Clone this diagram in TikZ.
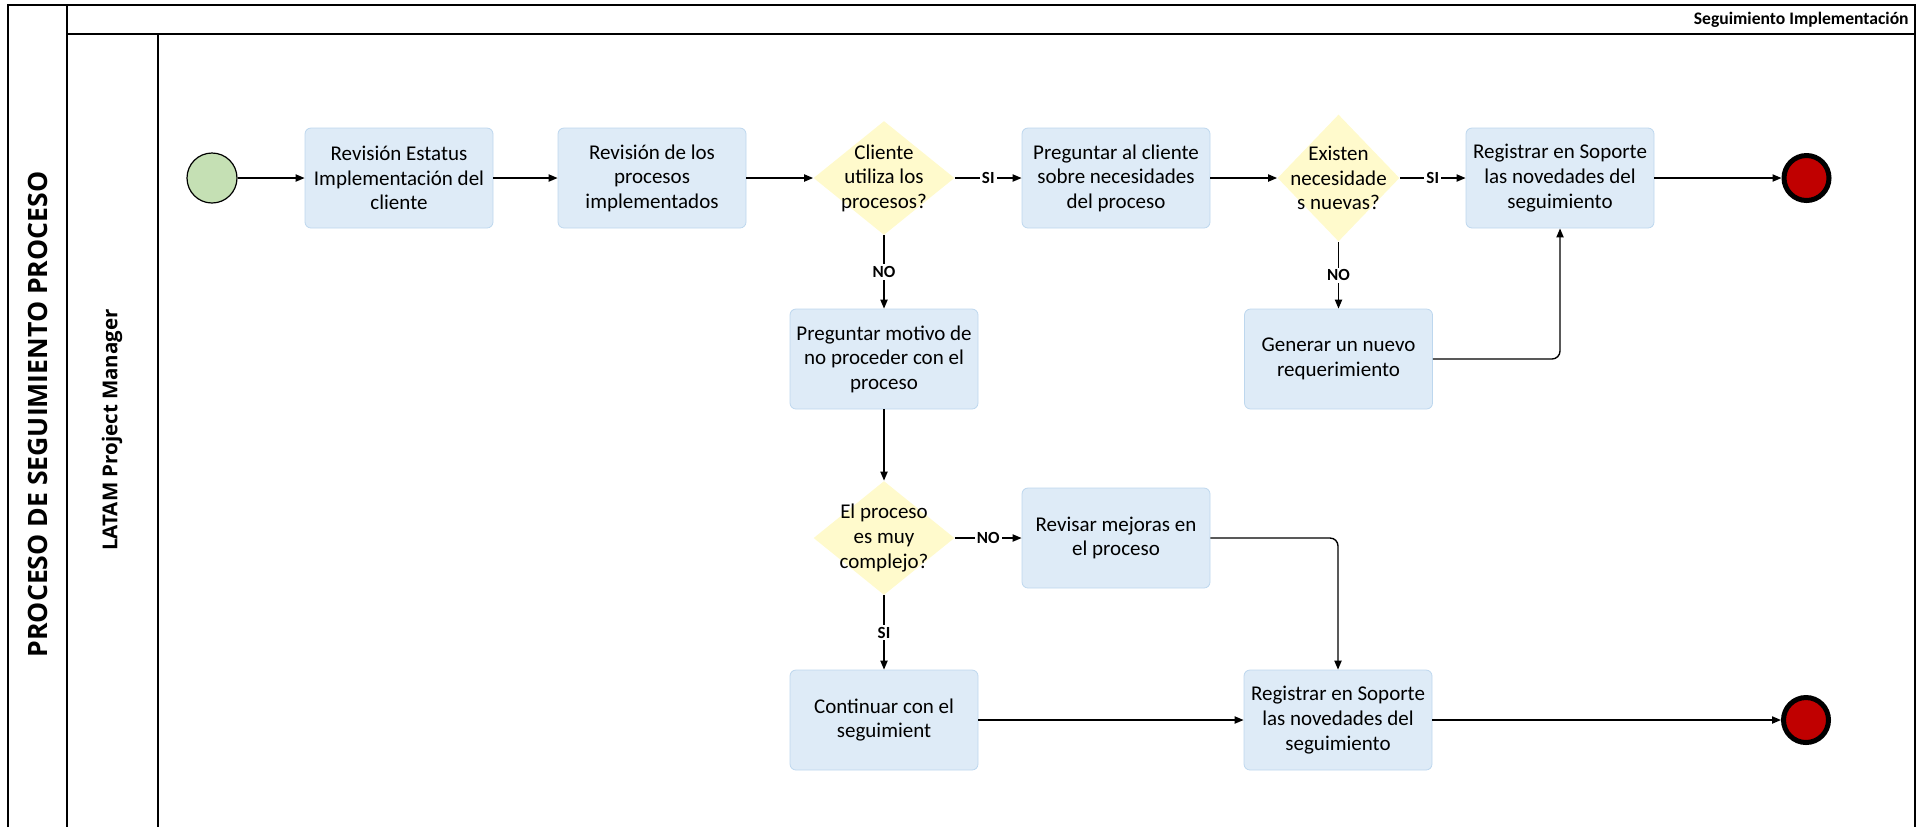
\documentclass[tikz,border=0pt]{standalone}
\usepackage{fontspec}
\setmainfont{Carlito}
\newfontfamily\lanefont{Open Sans}
\usetikzlibrary{shapes.geometric,arrows.meta}
\definecolor{taskfill}{RGB}{222,235,247}
\definecolor{taskline}{RGB}{189,215,238}
\definecolor{gatefill}{RGB}{255,250,204}
\definecolor{startgreen}{RGB}{197,224,180}
\definecolor{endred}{RGB}{192,0,0}

\begin{document}
\begin{tikzpicture}[
        x=0.5pt, y=-0.5pt,
        node distance=116pt,
        task/.style={draw=taskline, fill=taskfill, rounded corners=3pt, align=center, minimum width=94pt, minimum height=50pt, inner sep=1pt, font=\fontsize{10.5}{12.3}\selectfont},
        gate/.style={diamond, draw=none, fill=gatefill, inner sep=0pt, minimum width=70.5pt, minimum height=57pt},
        gatetext/.style={align=center, inner sep=0pt, font=\fontsize{10.5}{12.3}\selectfont},
        startev/.style={circle, draw, line width=0.6pt, fill=startgreen, minimum size=25pt, inner sep=0pt},
        endev/.style={circle, draw, line width=2.5pt, fill=endred, minimum size=22.5pt, inner sep=0pt},
        arrow/.style={-{Triangle[length=4.5pt,width=3.6pt]}, line width=0.7pt},
        answer/.style={fill=white, inner sep=1pt, font=\fontsize{8.5}{10}\selectfont\bfseries},
        lane/.style={line width=0.9pt}
      ]
        \useasboundingbox (0,0) rectangle (1925,827);
        \draw[lane] (8,827) -- (8,5) -- (1915,5) -- (1915,827);
        \draw[lane] (67,5) -- (67,827);
        \draw[line width=1.2pt] (67,34) -- (1915,34);
        \draw[lane] (158,34) -- (158,827);
        \node[anchor=east, inner sep=0pt, font=\fontsize{8.8}{10}\selectfont\bfseries] (head) at (1909,20) {Seguimiento Implementación};
        \node[rotate=90, font=\lanefont\bfseries\fontsize{13.3}{15}\selectfont] (pool) at (37.5,414.5) {PROCESO DE SEGUIMIENTO PROCESO};
        \node[rotate=90, font=\lanefont\bfseries\fontsize{10.25}{12}\selectfont] (lanepm) at (112,430) {LATAM Project Manager};

        \node[startev] (start) at (212,178) {};
        \node[task] (b1) [right of=start, node distance=93.5pt] {Revisión Estatus\\Implementación del\\cliente};
        \node[task] (b2) [right of=b1, node distance=126.5pt] {Revisión de los\\procesos\\implementados};
        \node[gate] (d1) [right of=b2] {};
        \node[gatetext] (d1t) at (d1) {Cliente\\utiliza los\\procesos?};
        \node[task] (b3) [right of=d1] {Preguntar al cliente\\sobre necesidades\\del proceso};
        \node[gate, minimum width=61pt, minimum height=63.5pt] (d2) [right of=b3, node distance=111.25pt] {};
        \node[gatetext] (d2t) at (d2) {Existen\\necesidade\\s nuevas?};
        \node[task] (b4) [right of=d2, node distance=110.75pt] {Registrar en Soporte\\las novedades del\\seguimiento};
        \node[endev] (end1) [right of=b4, node distance=123.25pt] {};
        \node[task] (b5) [below of=d1, node distance=90.5pt] {Preguntar motivo de\\no proceder con el\\proceso};
        \node[task] (b6) [below of=d2, node distance=90.5pt] {Generar un nuevo\\requerimiento};
        \node[gate] (d3) [below of=b5, node distance=89.5pt] {};
        \node[gatetext] (d3t) at (d3) {El proceso\\es muy\\complejo?};
        \node[task] (b7) [right of=d3] {Revisar mejoras en\\el proceso};
        \node[task] (b8) [below of=d3, node distance=91pt] {Continuar con el\\seguimient};
        \node[task] (b9) [right of=b8, node distance=227pt] {Registrar en Soporte\\las novedades del\\seguimiento};
        \node[endev] (end2) [right of=b9, node distance=234pt] {};

        \draw[arrow] (start) -- (b1);
        \draw[arrow] (b1) -- (b2);
        \draw[arrow] (b2) -- (d1);
        \draw[arrow] (d1) -- node[answer]{SI} (b3);
        \draw[arrow] (b3) -- (d2);
        \draw[arrow] (d2) -- node[answer]{SI} (b4);
        \draw[arrow] (b4) -- (end1);
        \draw[arrow] (d1) -- node[answer]{NO} (b5);
        \draw[arrow] (d2) -- node[answer]{NO} (b6);
        \draw[arrow, rounded corners=4pt] (b6.east) -| (b4.south);
        \draw[arrow] (b5) -- (d3);
        \draw[arrow] (d3) -- node[answer]{NO} (b7);
        \draw[arrow] (d3) -- node[answer]{SI} (b8);
        \draw[arrow, rounded corners=4pt] (b7.east) -| (b9.north);
        \draw[arrow] (b8) -- (b9);
        \draw[arrow] (b9) -- (end2);
      \end{tikzpicture}
\end{document}
